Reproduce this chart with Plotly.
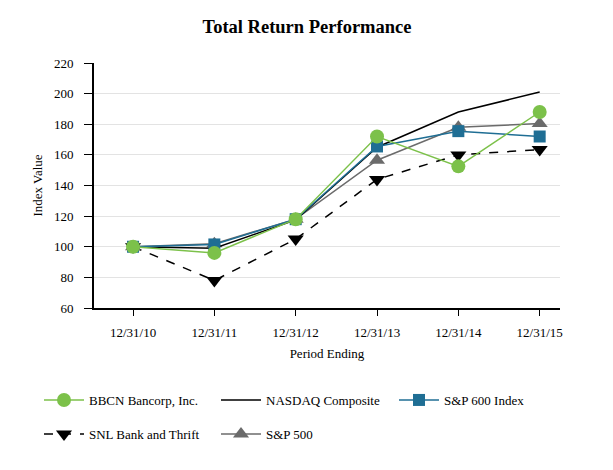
import plotly.graph_objects as go

periods = ["12/31/10", "12/31/11", "12/31/12", "12/31/13", "12/31/14", "12/31/15"]
bbcn = [100, 96, 118, 172, 152.5, 188]
nasdaq = [100, 99, 117.5, 165, 188, 201]
sp600 = [100, 101.5, 118, 165.5, 175.5, 172]
snl = [100, 78, 105, 144, 160, 163.5]
sp500 = [100, 102, 118, 156.5, 178, 180.5]

FONT = "Liberation Serif"
GREEN = "#7cc14a"
BLUE = "#1f6e94"
GRAY = "#6b6b6b"

# page body has an 8px margin; the figure is laid out in its own coordinates
W, H = 605, 462
L, R, T, B = 86, W - 552, 55, H - 300
PW, PH = W - L - R, H - T - B


def px(xf):
    return (xf - L) / PW


def py(yf):
    return (H - B - yf) / PH


fig = go.Figure()
fig.add_trace(go.Scatter(x=periods, y=snl, name="SNL Bank and Thrift", mode="lines+markers",
                         line=dict(color="black", width=1.5, dash="dash"),
                         marker=dict(symbol="triangle-down", size=14, color="black"),
                         legend="legend4", showlegend=True))
fig.add_trace(go.Scatter(x=periods, y=sp500, name="S&P 500", mode="lines+markers",
                         line=dict(color=GRAY, width=1.5),
                         marker=dict(symbol="triangle-up", size=14, color=GRAY),
                         legend="legend5", showlegend=True))
fig.add_trace(go.Scatter(x=periods, y=nasdaq, name="NASDAQ Composite", mode="lines",
                         line=dict(color="black", width=1.5),
                         legend="legend2", showlegend=True))
fig.add_trace(go.Scatter(x=periods, y=sp600, name="S&P 600 Index", mode="lines+markers",
                         line=dict(color=BLUE, width=1.5),
                         marker=dict(symbol="square", size=12, color=BLUE),
                         legend="legend3", showlegend=True))
fig.add_trace(go.Scatter(x=periods, y=bbcn, name="BBCN Bancorp, Inc.", mode="lines+markers",
                         line=dict(color=GREEN, width=1.5),
                         marker=dict(symbol="circle", size=14, color=GREEN),
                         legend="legend", showlegend=True))

leg_common = dict(orientation="h", xanchor="left", yanchor="middle", itemwidth=40,
                  font=dict(family=FONT, size=13, color="black"),
                  bgcolor="rgba(0,0,0,0)", borderwidth=0)

row1, row2 = 392, 426
col1, col2, col3 = 31, 208, 386

fig.update_layout(
    width=W, height=H,
    margin=dict(l=L, r=R, t=T, b=B),
    showlegend=True,
    paper_bgcolor="white", plot_bgcolor="white",
    font=dict(family=FONT, size=13, color="black"),
    title=dict(text="<b>Total Return Performance</b>", x=(299) / W, xanchor="center",
               y=1 - 19 / H, yanchor="middle", font=dict(family=FONT, size=18.5, color="black")),
    legend=dict(x=px(col1), y=py(row1), **leg_common),
    legend2=dict(x=px(col2), y=py(row1), **leg_common),
    legend3=dict(x=px(col3), y=py(row1), **leg_common),
    legend4=dict(x=px(col1), y=py(row2), **leg_common),
    legend5=dict(x=px(col2), y=py(row2), **leg_common),
    xaxis=dict(type="category", range=[-0.48, 5.25], showgrid=False,
               showline=True, linecolor="black", linewidth=2,
               ticks="outside", ticklen=6, tickcolor="black", ticklabelstandoff=5,
               title=dict(text="Period Ending", font=dict(family=FONT, size=13), standoff=10),
               tickfont=dict(family=FONT, size=13)),
    yaxis=dict(range=[60, 220], dtick=20, showgrid=True, gridcolor="#e3e3e3", gridwidth=1,
               showline=True, linecolor="black", linewidth=2,
               ticks="outside", ticklen=8, tickcolor="black", zeroline=False,
               ticklabelstandoff=8,
               title=dict(text="Index Value", font=dict(family=FONT, size=13), standoff=8),
               tickfont=dict(family=FONT, size=13)),
)

fig.write_html("out.html")
